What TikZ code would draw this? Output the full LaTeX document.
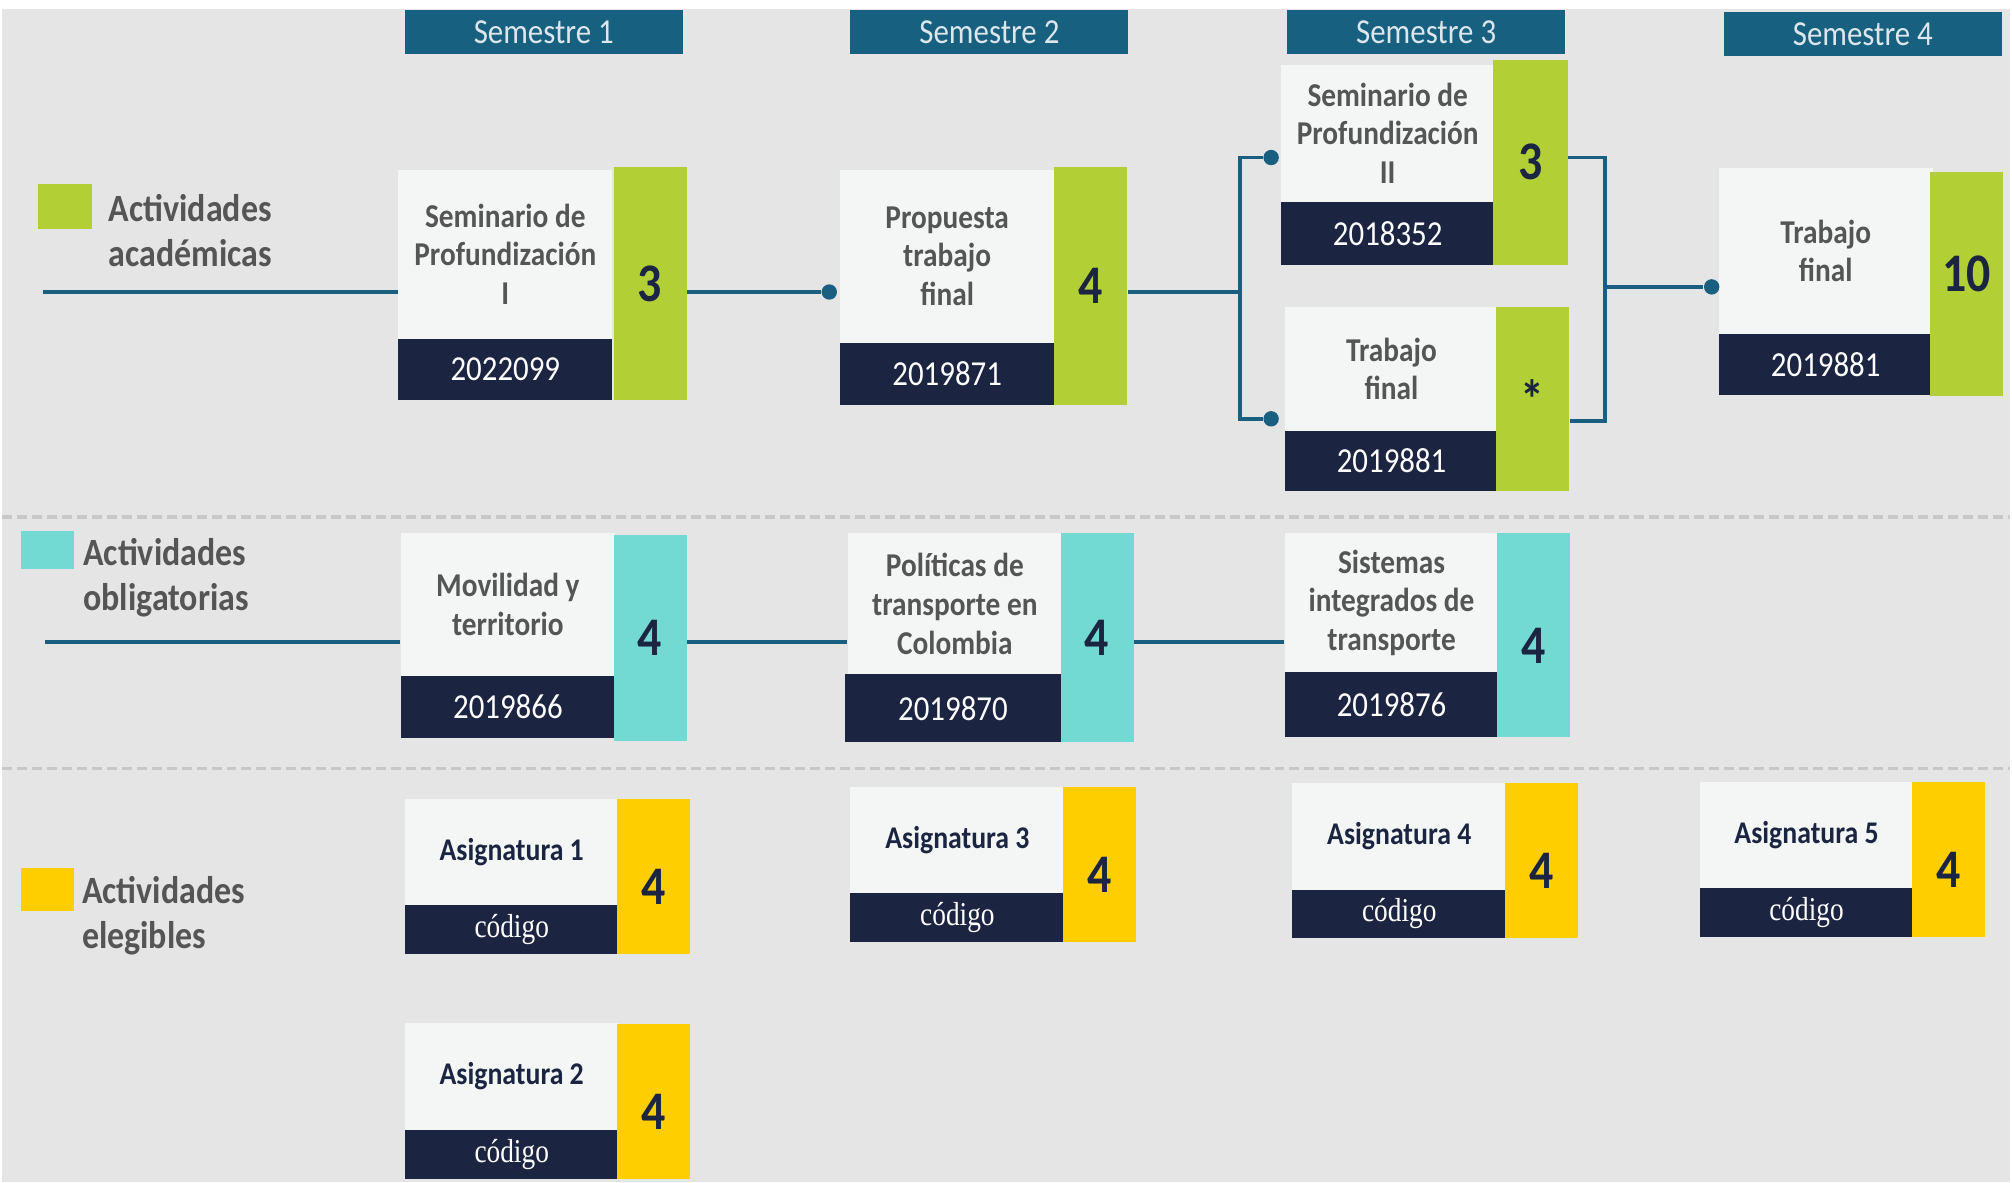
\documentclass[tikz,border=0pt]{standalone}
\usepackage{fontspec}
\newfontfamily\calfont[FakeStretch=0.88]{Carlito}
\newfontfamily\codfont[FakeStretch=0.82]{Liberation Serif}
\usetikzlibrary{calc}
\definecolor{bggray}{HTML}{E5E5E5}
\definecolor{semblue}{HTML}{17607F}
\definecolor{semtext}{HTML}{DCE6EC}
\definecolor{linkblue}{HTML}{1A5E80}
\definecolor{navy}{HTML}{1B2542}
\definecolor{cardwhite}{HTML}{F3F6F5}
\definecolor{titlegray}{HTML}{555555}
\definecolor{acgreen}{HTML}{B3CF36}
\definecolor{obcyan}{HTML}{72DAD2}
\definecolor{elyellow}{HTML}{FFCE00}
\definecolor{sepgray}{HTML}{C8C8C8}
\newcommand{\pxu}{0.012832cm}

\begin{document}
\begin{tikzpicture}[x=0.012832cm, y=-0.012832cm,
 sem/.style={fill=semblue, text=semtext, anchor=north west, inner sep=0pt, minimum width=217*\pxu, minimum height=35*\pxu, font=\calfont\fontsize{10}{12}\selectfont},
 card/.style={fill=cardwhite, text=titlegray, anchor=north west, inner sep=0pt, align=center, minimum width=167*\pxu, font=\calfont\bfseries\fontsize{9.5}{11}\selectfont},
 elcard/.style={card, text=navy, font=\calfont\bfseries\fontsize{9}{11}\selectfont},
 code/.style={fill=navy, text=white, anchor=north west, inner sep=0pt, minimum width=167*\pxu, font=\calfont\fontsize{10}{12}\selectfont},
 elcode/.style={code, minimum height=38*\pxu, font=\codfont\fontsize{9.5}{11}\selectfont},
 bar/.style={anchor=north west, inner sep=0pt, minimum width=57*\pxu, text=navy, font=\calfont\bfseries\fontsize{15.5}{18}\selectfont},
 acbar/.style={bar, fill=acgreen},
 obbar/.style={bar, fill=obcyan},
 elbar/.style={bar, fill=elyellow, minimum height=121*\pxu, text height=16pt, text depth=0pt},
 legsq/.style={anchor=north west, inner sep=0pt, minimum width=42*\pxu},
 legtext/.style={anchor=west, inner sep=0pt, align=left, text=titlegray, font=\calfont\bfseries\fontsize{11}{13}\selectfont},
 link/.style={draw=linkblue, line width=1.1pt},
 dot/.style={circle, fill=linkblue, inner sep=0pt, minimum size=12*\pxu},
 sepline/.style={draw=sepgray, line width=1.1pt, dash pattern=on 0.1cm off 0.05cm}]

% background
\fill[white] (0,0) rectangle (1568,923);
\fill[bggray] (0,7) rectangle (1568,923);
\draw[sepline] (0,404) -- (1568,404);
\draw[sepline] (0,600) -- (1568,600);

% semesters
\node[sem] (sem1) at (314,7) {Semestre 1};
\node[sem] (sem2) at (662,7) {Semestre 2};
\node[sem] (sem3) at (1003,7) {Semestre 3};
\node[sem, minimum height=34*\pxu] (sem4) at (1344,9) {Semestre 4};

% legend
\node[legsq, fill=acgreen, minimum height=35*\pxu] (leg1) at (28,143) {};
\node[legtext] (leg1t) at (83,180) {Actividades\\académicas};
\node[legsq, fill=obcyan, minimum height=30*\pxu] (leg2) at (14,414) {};
\node[legtext] (leg2t) at (63,451) {Actividades\\obligatorias};
\node[legsq, fill=elyellow, minimum height=34*\pxu] (leg3) at (14,677) {};
\node[legtext] (leg3t) at (62,715) {Actividades\\elegibles};

% actividades academicas
\node[card, minimum height=132*\pxu] (sp1) at (309,132) {Seminario de\\Profundización\\I};
\node[code, minimum height=48*\pxu] (sp1c) at (309,264) {2022099};
\node[acbar, minimum height=182*\pxu] (sp1n) at (477,130) {3};

\node[card, minimum height=135*\pxu] (pt2) at (654,132) {Propuesta\\trabajo\\final};
\node[code, minimum height=49*\pxu] (pt2c) at (654,267) {2019871};
\node[acbar, minimum height=186*\pxu] (pt2n) at (821,130) {4};

\node[card, minimum height=107*\pxu] (sp2) at (998,50) {Seminario de\\Profundización\\II};
\node[code, minimum height=49*\pxu] (sp2c) at (998,157) {2018352};
\node[acbar, minimum width=58*\pxu, minimum height=160*\pxu] (sp2n) at (1164,46) {3};

\node[card, minimum height=97*\pxu] (tf3) at (1001,239) {Trabajo\\final};
\node[code, minimum height=47*\pxu] (tf3c) at (1001,336) {2019881};
\node[acbar, minimum height=144*\pxu] (tf3n) at (1166,239) {*};

\node[card, minimum height=129*\pxu] (tf4) at (1340,131) {Trabajo\\final};
\node[code, minimum height=48*\pxu] (tf4c) at (1340,260) {2019881};
\node[acbar, minimum height=175*\pxu, text depth=6pt] (tf4n) at (1505,134) {10};

\coordinate (r1) at (32,228);
\coordinate (br1) at (967,228);
\coordinate (br2) at (1252,224);
\node[dot] (d2) at (646,228) {};
\node[dot] (d3a) at (991,123) {};
\node[dot] (d3b) at (991,327) {};
\node[dot] (d4) at (1335,224) {};
\draw[link] (r1) -- (r1 -| sp1.west);
\draw[link] (sp1n.east |- r1) -- (d2);
\draw[link] (pt2n.east |- r1) -- (br1);
\draw[link] (d3a) -- (d3a -| br1) -- (d3b -| br1) -- (d3b);
\draw[link] (sp2n.east |- d3a) -- (br2 |- d3a) -- ([yshift=-2*\pxu]br2 |- d3b) -- ([yshift=-2*\pxu]tf3n.east |- d3b);
\draw[link] (br2) -- (d4);

% actividades obligatorias
\node[card, minimum height=111*\pxu] (mov) at (311,416) {Movilidad y\\territorio};
\node[code, minimum height=49*\pxu] (movc) at (311,527) {2019866};
\node[obbar, minimum height=161*\pxu] (movn) at (477,417) {4};

\node[card, minimum height=110*\pxu] (pol) at (660,416) {Políticas de\\transporte en\\Colombia};
\node[code, minimum width=168*\pxu, minimum height=53*\pxu] (polc) at (658,526) {2019870};
\node[obbar, minimum height=163*\pxu] (poln) at (826,416) {4};

\node[card, minimum height=108*\pxu] (sis) at (1001,416) {Sistemas\\integrados de\\transporte};
\node[code, minimum height=51*\pxu] (sisc) at (1001,524) {2019876};
\node[obbar, minimum height=159*\pxu, text height=16pt, text depth=0pt] (sisn) at (1167,416) {4};

\coordinate (r2) at (34,501);
\draw[link] (r2) -- (r2 -| mov.west);
\draw[link] (movn.east |- r2) -- (r2 -| pol.west);
\draw[link] (poln.east |- r2) -- (r2 -| sis.west);

% actividades elegibles
\node[elcard, minimum height=83*\pxu] (as1) at (314,623) {Asignatura 1};
\node[elcode] (as1c) at (314,706) {código};
\node[elbar] (as1n) at (480,623) {4};

\node[elcard, minimum height=83*\pxu] (as3) at (662,614) {Asignatura 3};
\node[elcode] (as3c) at (662,697) {código};
\node[elbar] (as3n) at (828,614) {4};

\node[elcard, minimum height=83*\pxu] (as4) at (1007,611) {Asignatura 4};
\node[elcode] (as4c) at (1007,694) {código};
\node[elbar] (as4n) at (1173,611) {4};

\node[elcard, minimum height=83*\pxu] (as5) at (1325,610) {Asignatura 5};
\node[elcode] (as5c) at (1325,693) {código};
\node[elbar] (as5n) at (1491,610) {4};

\node[elcard, minimum height=84*\pxu] (as2) at (314,798) {Asignatura 2};
\node[elcode] (as2c) at (314,882) {código};
\node[elbar] (as2n) at (480,799) {4};
\end{tikzpicture}
\end{document}
